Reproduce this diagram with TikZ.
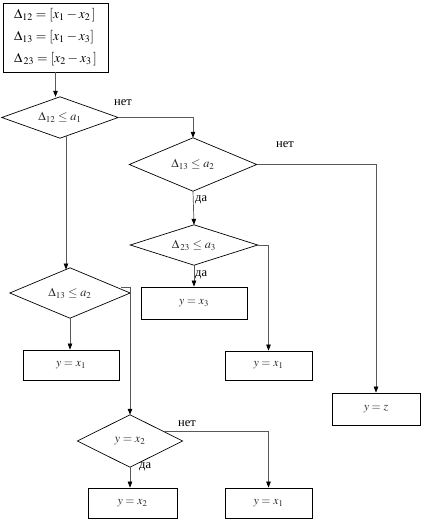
\documentclass[tikz,border=0pt]{standalone}
\usepackage{mathptmx}
\usepackage[no-math]{fontspec}
\setmainfont{Liberation Serif}
\usetikzlibrary{arrows.meta,calc}
\tikzset{
  blk/.style={draw=black, line width=0.7pt},
  boxn/.style={draw=black, line width=0.8pt, inner sep=0pt, font=\fontsize{11.8}{13}\selectfont, text=black!85},
  dian/.style={inner sep=0pt, font=\fontsize{12.2}{13}\selectfont, text=black!85},
  arr/.style={draw=black!65, line width=0.7pt, -{Triangle[length=6pt,width=4.5pt,color=black]}},
  lbl/.style={inner sep=0pt, font=\fontsize{12.5}{14}\selectfont}
}
\begin{document}
\begin{tikzpicture}[x=1pt,y=-1pt]
\useasboundingbox (0,0) rectangle (421,520);
% top box
\node[boxn, minimum width=105pt, minimum height=69pt, align=left,
      font=\fontsize{13.5}{15}\selectfont, text=black] (b0) at (55.5,37.5)
  {$\Delta_{12}=[x_1-x_2\,]$\\[7pt]$\Delta_{13}=[x_1-x_3]$\\[7pt]$\Delta_{\,23}=[x_2-x_3\,]$};
% diamonds (text holders; outlines drawn below)
\node[dian, minimum width=116pt, minimum height=41pt] (d1) at (60,117.5) {$\Delta_{12}\le a_1$};
\node[dian, minimum width=127pt, minimum height=53pt] (d2) at (193,164.5) {$\Delta_{13}\le a_2$};
\node[dian, minimum width=127pt, minimum height=40pt] (d3) at (194,245) {$\Delta_{\,23}\le a_3$};
\node[dian, minimum width=120pt, minimum height=50pt] (d4) at (70,293) {$\Delta_{13}\le a_2$};
\node[dian, minimum width=105pt, minimum height=52pt] (d5) at (130,441) {$y=x_2$};
\foreach \n in {d1,d2,d3,d4,d5}
  \draw[blk] (\n.north) -- (\n.east) -- (\n.south) -- (\n.west) -- cycle;
% result boxes
\node[boxn, minimum width=106pt, minimum height=32pt] (bx3) at (194,303) {$y=x_3$};
\node[boxn, minimum width=87pt, minimum height=29pt] (bx1m) at (268.5,365.5) {$y=x_1$};
\node[boxn, minimum width=88pt, minimum height=32pt] (bz) at (376,409) {$y=z$};
\node[boxn, minimum width=96pt, minimum height=30pt] (bx1l) at (71,365) {$y=x_1$};
\node[boxn, minimum width=89pt, minimum height=30pt] (bx2) at (132.5,503) {$y=x_2$};
\node[boxn, minimum width=87pt, minimum height=30pt] (bx1b) at (268.5,503) {$y=x_1$};
% connectors
\draw[arr] (b0.south) -- (b0.south |- d1.north);
\draw[arr] (d1.east) -| (d2.north);
\node[lbl] (n1) at (123,103) {нет};
\draw[arr] (d2.east) -| (bz.north);
\node[lbl] (n2) at (285,145) {нет};
\draw[arr] (d2.south) -- (d3.north);
\node[lbl, anchor=west] (y1) at (195,200) {да};
\draw[arr] (d3.south) -- (bx3.north);
\node[lbl, anchor=west] (y2) at (195,275) {да};
\draw[arr] (d3.east) -| (bx1m.north);
\draw[arr] ([xshift=6pt,yshift=2pt]d1.south) -- ([xshift=-4pt,yshift=-1.7pt]d4.north);
\draw[arr] (d4.south) -- (d4.south |- bx1l.north);
\draw[arr] ([xshift=-9pt,yshift=6pt]d4.east) -| (d5.north);
\draw[arr] (d5.south) -- (d5.south |- bx2.north);
\node[lbl, anchor=west] (y3) at (139,467) {да};
\draw[arr] ($(d5.north)!0.65!(d5.east)$) -| (bx1b.north);
\node[lbl] (n3) at (187,424) {нет};
\end{tikzpicture}
\end{document}
